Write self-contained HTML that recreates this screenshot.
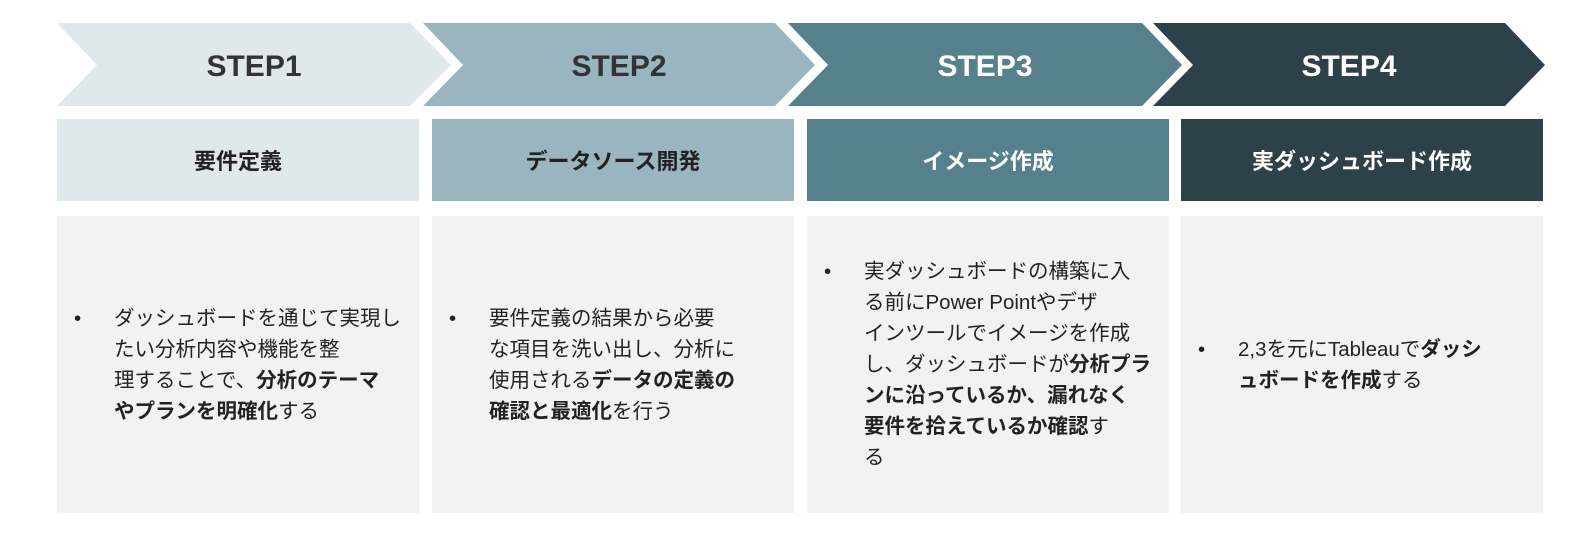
<!DOCTYPE html>
<html><head><meta charset="utf-8"><style>
body{margin:0;width:1593px;height:545px;background:#fff;position:relative;overflow:hidden;font-family:"Liberation Sans","Noto Sans CJK JP",sans-serif;}
svg{position:absolute;left:0;top:0}
.h{position:absolute;top:119px;height:82px;width:362px;display:flex;align-items:center;justify-content:center;font-weight:bold;font-size:22px;}
.b{position:absolute;top:216px;height:297px;width:362px;background:#f2f2f2;display:flex;align-items:center;font-size:20.5px;line-height:31px;color:#222;}
.b ul{margin:0;padding:0 0 0 57px;list-style:none;position:relative}
.b li:before{content:"•";position:absolute;left:17px;}
</style></head><body>
<svg width="1593" height="545">
<polygon points="57,23 410,23 451,65 410,106 57,106 97,65" fill="#dfe8eb"/>
<polygon points="423,23 775,23 815,65 775,106 423,106 463,65" fill="#99b5bf"/>
<polygon points="788,23 1142,23 1182,65 1142,106 788,106 828,65" fill="#56808c"/>
<polygon points="1153,23 1505,23 1545,65 1505,106 1153,106 1193,65" fill="#2d4149"/>
<g font-family="Liberation Sans, sans-serif" font-weight="bold" font-size="30" text-anchor="middle">
<text x="254" y="76" fill="#333">STEP1</text>
<text x="619" y="76" fill="#333">STEP2</text>
<text x="985" y="76" fill="#fff">STEP3</text>
<text x="1349" y="76" fill="#fff">STEP4</text>
</g>
</svg>
<div class="h" style="left:57px;background:#dfe8eb;color:#222">要件定義</div>
<div class="h" style="left:432px;background:#99b5bf;color:#222">データソース開発</div>
<div class="h" style="left:807px;background:#56808c;color:#fff">イメージ作成</div>
<div class="h" style="left:1181px;background:#2d4149;color:#fff">実ダッシュボード作成</div>
<div class="b" style="left:57px"><ul><li>ダッシュボードを通じて実現し<br>たい分析内容や機能を整<br>理することで、<b>分析のテーマ<br>やプランを明確化</b>する</li></ul></div>
<div class="b" style="left:432px"><ul><li>要件定義の結果から必要<br>な項目を洗い出し、分析に<br>使用される<b>データの定義の<br>確認と最適化</b>を行う</li></ul></div>
<div class="b" style="left:807px"><ul><li>実ダッシュボードの構築に入<br>る前にPower Pointやデザ<br>インツールでイメージを作成<br>し、ダッシュボードが<b>分析プラ<br>ンに沿っているか、漏れなく<br>要件を拾えているか確認</b>す<br>る</li></ul></div>
<div class="b" style="left:1181px"><ul><li>2,3を元にTableauで<b>ダッシ<br>ュボードを作成</b>する</li></ul></div>
</body></html>
